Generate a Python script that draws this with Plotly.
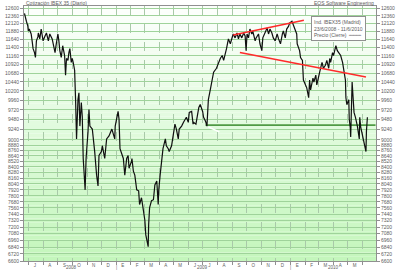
import math
import plotly.graph_objects as go

# ---------------- data ----------------
dates = [
    "2008-06-23", "2008-06-25", "2008-06-27", "2008-06-30", "2008-07-01", "2008-07-03", "2008-07-07",
    "2008-07-09", "2008-07-11", "2008-07-14", "2008-07-16", "2008-07-18", "2008-07-21", "2008-07-22",
    "2008-07-25", "2008-07-28", "2008-07-30", "2008-08-01", "2008-08-05", "2008-08-08", "2008-08-12",
    "2008-08-15", "2008-08-20", "2008-08-22", "2008-08-26", "2008-08-28", "2008-09-01", "2008-09-03",
    "2008-09-05", "2008-09-08", "2008-09-11", "2008-09-15", "2008-09-17", "2008-09-19", "2008-09-22",
    "2008-09-24", "2008-09-26", "2008-09-29", "2008-10-01", "2008-10-03", "2008-10-06", "2008-10-08",
    "2008-10-10", "2008-10-13", "2008-10-15", "2008-10-17", "2008-10-20", "2008-10-22", "2008-10-24",
    "2008-10-28", "2008-10-30", "2008-11-03", "2008-11-05", "2008-11-07", "2008-11-12", "2008-11-17",
    "2008-11-18", "2008-11-21", "2008-11-24", "2008-11-26", "2008-12-01", "2008-12-03", "2008-12-08",
    "2008-12-09", "2008-12-12", "2008-12-17", "2008-12-19", "2008-12-23", "2008-12-29", "2008-12-30",
    "2009-01-05", "2009-01-07", "2009-01-09", "2009-01-13", "2009-01-16", "2009-01-19", "2009-01-23",
    "2009-01-26", "2009-01-28", "2009-02-02", "2009-02-03", "2009-02-06", "2009-02-09", "2009-02-13",
    "2009-02-17", "2009-02-19", "2009-02-23", "2009-02-27", "2009-03-02", "2009-03-04", "2009-03-06",
    "2009-03-09", "2009-03-10", "2009-03-12", "2009-03-16", "2009-03-20", "2009-03-23", "2009-03-27",
    "2009-03-30", "2009-03-31", "2009-04-03", "2009-04-09", "2009-04-14", "2009-04-16", "2009-04-20",
    "2009-04-22", "2009-04-27", "2009-04-30", "2009-05-04", "2009-05-07", "2009-05-11", "2009-05-13",
    "2009-05-18", "2009-05-22", "2009-05-25", "2009-05-28", "2009-06-01", "2009-06-03", "2009-06-08",
    "2009-06-11", "2009-06-12", "2009-06-17", "2009-06-22", "2009-06-23", "2009-06-26", "2009-07-01",
    "2009-07-03", "2009-07-07", "2009-07-10", "2009-07-13", "2009-07-17", "2009-07-21", "2009-07-24",
    "2009-07-30", "2009-08-03", "2009-08-07", "2009-08-11", "2009-08-14", "2009-08-20", "2009-08-24",
    "2009-08-28", "2009-09-03", "2009-09-07", "2009-09-11", "2009-09-14", "2009-09-17", "2009-09-21",
    "2009-09-25", "2009-09-28", "2009-09-30", "2009-10-02", "2009-10-05", "2009-10-08", "2009-10-12",
    "2009-10-14", "2009-10-19", "2009-10-21", "2009-10-26", "2009-10-29", "2009-11-02", "2009-11-04",
    "2009-11-09", "2009-11-13", "2009-11-16", "2009-11-19", "2009-11-23", "2009-11-26", "2009-11-30",
    "2009-12-04", "2009-12-07", "2009-12-11", "2009-12-15", "2009-12-17", "2009-12-21", "2009-12-24",
    "2009-12-28", "2009-12-30", "2010-01-04", "2010-01-06", "2010-01-11", "2010-01-14", "2010-01-15",
    "2010-01-20", "2010-01-22", "2010-01-26", "2010-01-28", "2010-02-01", "2010-02-04", "2010-02-08",
    "2010-02-10", "2010-02-12", "2010-02-17", "2010-02-19", "2010-02-23", "2010-02-25", "2010-03-01",
    "2010-03-04", "2010-03-08", "2010-03-11", "2010-03-15", "2010-03-18", "2010-03-22", "2010-03-24",
    "2010-03-26", "2010-03-30", "2010-04-01", "2010-04-06", "2010-04-09", "2010-04-12", "2010-04-16",
    "2010-04-20", "2010-04-22", "2010-04-26", "2010-04-27", "2010-04-29", "2010-05-03", "2010-05-04",
    "2010-05-06", "2010-05-07", "2010-05-10", "2010-05-12", "2010-05-14", "2010-05-17", "2010-05-19",
    "2010-05-21", "2010-05-25", "2010-05-26", "2010-05-27", "2010-05-28", "2010-06-01", "2010-06-03",
    "2010-06-04", "2010-06-08", "2010-06-09", "2010-06-11",
]
values = [
    12443, 12350, 12195, 12043, 11893, 11953, 11804,
    11598, 11368, 11254, 11114, 11598, 11716, 11833,
    11656, 11953, 11745, 11598, 11745, 11833, 11598,
    11804, 11656, 11511, 11254, 11454, 11804, 11598,
    11311, 11114, 11454, 11170, 10623, 11086, 11030,
    11254, 11368, 10975, 11086, 10975, 10757, 9976,
    9023, 9976, 10153, 9323, 9901, 9560, 8581,
    7919, 8581, 9183, 9729, 9323, 9253, 8734,
    8581, 8223, 7999, 8647, 8734, 8866, 8581,
    8756, 9023, 9091, 9137, 9253, 9023, 9323,
    9680, 9488, 8800, 8647, 8581, 8223, 8581,
    8647, 8369, 8516, 8581, 8306, 8223, 7919,
    7899, 7627, 7761, 7512, 7326, 7056, 6932,
    6846, 7253, 7569, 7703, 7722, 8019, 8099,
    7627, 7899, 8223, 8800, 9023, 8866, 8800,
    8734, 8866, 9091, 9370, 9253, 9023, 9253,
    9323, 9417, 9488, 9535, 9417, 9656, 9680,
    9370, 9417, 9370, 9656, 9778, 9852, 9680,
    9535, 9441, 9323, 9976, 10230, 10490, 10703,
    10811, 10975, 11086, 11170, 11030, 11368, 11656,
    11511, 11804, 11686, 11833, 11656, 11804, 11686,
    11833, 11745, 11311, 11804, 11686, 11953, 11804,
    11893, 11598, 11686, 11804, 11511, 11311, 11686,
    11833, 11983, 11804, 11953, 11833, 11686, 11598,
    11804, 11656, 11511, 11804, 11893, 11686, 11953,
    12043, 12134, 12195, 12104, 11953, 11804, 11511,
    11311, 11114, 11030, 10490, 10359, 10282, 10026,
    10490, 10230, 10543, 10438, 10623, 10359, 10623,
    10757, 10975, 10811, 10893, 11030, 10811, 11086,
    10975, 11254, 11170, 11454, 11311, 11254, 11170,
    10975, 10757, 10490, 10026, 9852, 9976, 9488,
    9300, 9068, 10438, 10102, 9656, 9535, 9370,
    9323, 9023, 9535, 9417, 9300, 9091, 9023,
    8911, 8734, 9206, 9535,
]

# trend lines drawn on the chart
upper_dates = ["2009-09-03", "2010-01-29"]
upper_values = [11775, 12225]
lower_dates = ["2009-09-17", "2010-06-08"]
lower_values = [11254, 10570]
support_dates = ["2009-07-07", "2010-06-28"]
support_values = [9346, 9346]
mark_dates = ["2009-07-13", "2009-08-05"]
mark_values = [9300, 9186]

# axis labels
y_ticks = [12600, 12360, 12120, 11880, 11640, 11400, 11160, 10920, 10680, 10440, 10200,
           9960, 9720, 9480, 9240, 9000, 8880, 8760, 8640, 8520, 8400, 8280, 8160, 8040,
           7920, 7800, 7680, 7560, 7440, 7320, 7200, 7080, 6960, 6840, 6720, 6600]
y_ticktext = [str(v) for v in y_ticks]
month_starts = ["2008-07-01", "2008-08-01", "2008-09-01", "2008-10-01", "2008-11-01", "2008-12-01",
                "2009-01-01", "2009-02-01", "2009-03-01", "2009-04-01", "2009-05-01", "2009-06-01",
                "2009-07-01", "2009-08-01", "2009-09-01", "2009-10-01", "2009-11-01", "2009-12-01",
                "2010-01-01", "2010-02-01", "2010-03-01", "2010-04-01", "2010-05-01", "2010-06-01"]
month_mids = ["2008-07-15", "2008-08-15", "2008-09-15", "2008-10-15", "2008-11-15", "2008-12-15",
              "2009-01-15", "2009-02-14", "2009-03-15", "2009-04-15", "2009-05-15", "2009-06-15",
              "2009-07-15", "2009-08-15", "2009-09-15", "2009-10-15", "2009-11-15", "2009-12-15",
              "2010-01-15", "2010-02-14", "2010-03-15", "2010-04-15", "2010-05-15"]
month_labels = ["J", "A", "S", "O", "N", "D", "E", "F", "M", "A", "M", "J",
                "J", "A", "S", "O", "N", "D", "E", "F", "M", "A", "M"]
year_labels = ["2008", "2009", "2010"]
year_pos = ["2008-09-30", "2009-07-01", "2010-03-31"]
year_breaks = ["2009-01-01", "2010-01-01"]

x_range = ["2008-06-22", "2010-06-29"]
y_range_vals = (6600, 12680)

# ---------------- figure ----------------
y_range = [math.log10(y_range_vals[0]), math.log10(y_range_vals[1])]
FONT = "Liberation Sans, Arial, sans-serif"
TXT = "#606060"

fig = go.Figure()

fig.add_trace(go.Scatter(x=support_dates, y=support_values, mode="lines",
                         line=dict(color="#4f9a45", width=1.6), hoverinfo="skip", showlegend=False))
fig.add_trace(go.Scatter(x=mark_dates, y=mark_values, mode="lines",
                         line=dict(color="#ffffff", width=1.6), hoverinfo="skip", showlegend=False))
fig.add_trace(go.Scatter(x=dates, y=values, mode="lines",
                         line=dict(color="#101010", width=1.2), hoverinfo="skip", showlegend=False))
fig.add_trace(go.Scatter(x=upper_dates, y=upper_values, mode="lines",
                         line=dict(color="#ff2a2a", width=1.5), hoverinfo="skip", showlegend=False))
fig.add_trace(go.Scatter(x=lower_dates, y=lower_values, mode="lines",
                         line=dict(color="#ff2a2a", width=1.5), hoverinfo="skip", showlegend=False))
# invisible trace to activate the right-hand axis
fig.add_trace(go.Scatter(x=[dates[0]], y=[values[0]], yaxis="y2", mode="markers",
                         marker=dict(opacity=0), hoverinfo="skip", showlegend=False))

# gradient background (white at top -> light green at bottom)
N = 60
top_c = (252, 255, 252)
bot_c = (196, 246, 188)
for i in range(N):
    t = i / (N - 1)
    c = tuple(int(round(bot_c[k] + (top_c[k] - bot_c[k]) * t)) for k in range(3))
    fig.add_shape(type="rect", xref="x domain", yref="y domain",
                  x0=0, x1=1, y0=i / N, y1=(i + 1) / N,
                  fillcolor="rgb(%d,%d,%d)" % c, line=dict(width=0), layer="below")

axis_common = dict(type="log", range=y_range, tickmode="array", tickvals=y_ticks,
                   ticktext=y_ticktext, ticks="outside", ticklen=3, tickcolor="#909090",
                   tickfont=dict(size=5, color=TXT, family=FONT), zeroline=False)

fig.update_layout(
    width=400, height=273,
    margin=dict(l=20, r=22, t=5, b=10),
    paper_bgcolor="white", plot_bgcolor="white",
    hovermode=False,
    font=dict(family=FONT, size=5, color=TXT),
    xaxis=dict(type="date", range=x_range, tickmode="array", tickvals=month_mids,
               ticktext=month_labels, ticks="", showgrid=False, zeroline=False,
               tickfont=dict(size=4.5, color=TXT, family=FONT), ticklabelstandoff=0,
               showline=True, linecolor="#909090", mirror=True,
               minor=dict(tickmode="array", tickvals=month_starts, ticks="outside", ticklen=3,
                          tickcolor="#909090", showgrid=True, gridcolor="#a9c9a9",
                          griddash="dash", gridwidth=1)),
    yaxis=dict(**axis_common, side="left", showgrid=True, gridcolor="#9fd39a", gridwidth=1,
               showline=True, linecolor="#909090", mirror=True),
    yaxis2=dict(**axis_common, side="right", overlaying="y", showgrid=False,
                showline=False),
)

# year labels and separators under the month letters
for lab, pos in zip(year_labels, year_pos):
    fig.add_annotation(x=pos, y=-10.0 / 258, xref="x", yref="paper", text=lab, showarrow=False,
                       font=dict(size=4.5, color=TXT, family=FONT), yanchor="bottom", borderpad=0)
for pos in year_breaks:
    fig.add_annotation(x=pos, y=-10.0 / 258, xref="x", yref="paper", text="|", showarrow=False,
                       font=dict(size=4.5, color=TXT, family=FONT), yanchor="bottom", borderpad=0)

# header texts
fig.add_annotation(x=0.0, y=1.012, xref="paper", yref="paper", xanchor="left", yanchor="middle",
                   text="Cotización IBEX 35 (Diario)", showarrow=False,
                   font=dict(size=5, color=TXT, family=FONT))
fig.add_annotation(x=1.0, y=1.012, xref="paper", yref="paper", xanchor="right", yanchor="middle",
                   text="EOS Software Engineering", showarrow=False,
                   font=dict(size=5, color=TXT, family=FONT))

# legend box
fig.add_annotation(x=0.816, y=0.961, xref="paper", yref="paper", xanchor="left", yanchor="top",
                   text="Ind. IBEX35 (Madrid)<br>23/6/2008 - 11/6/2010<br>Precio (Cierre)  <span style='color:#8a8a8a'>━━━━</span>",
                   align="left", showarrow=False, bgcolor="white", bordercolor="#909090",
                   borderwidth=1, borderpad=2, font=dict(size=5, color=TXT, family=FONT))

fig.write_html("out.html", config={"displayModeBar": False})
